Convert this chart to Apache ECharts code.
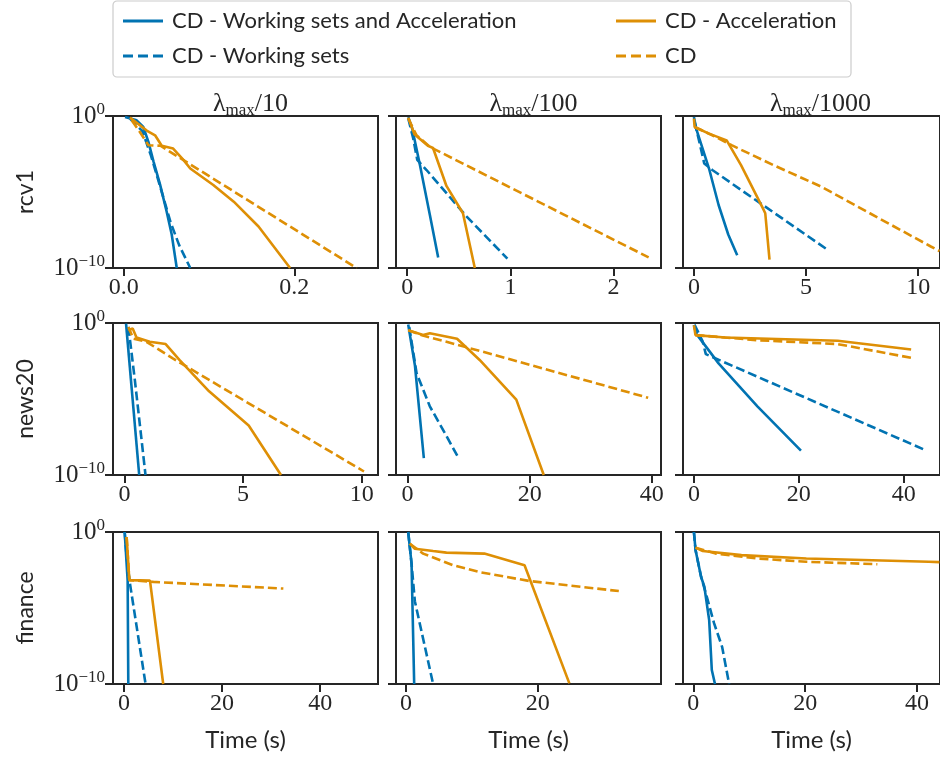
<!DOCTYPE html>
<html><head><meta charset="utf-8">
<script src="https://cdn.jsdelivr.net/npm/echarts@6/dist/echarts.min.js"></script>
<style>html,body{margin:0;padding:0;background:#fff}#c{width:940px;height:759px}</style>
</head><body><div id="c"></div>
<script>
// ---- data: [time (s), suboptimality] ----
const rcv1_10_wsacc = [[0.0016,0.85],[0.0152,0.52],[0.023,0.19],[0.029,0.02],[0.035,1e-3],[0.0426,3.2e-5],[0.0504,5e-7],[0.0563,1.6e-8],[0.0622,1e-10]];
const rcv1_10_ws = [[0.0074,0.68],[0.022,0.1],[0.032,2.5e-3],[0.042,3.2e-5],[0.055,1e-7],[0.065,3.2e-9],[0.078,1e-10]];
const rcv1_10_acc = [[0.0074,0.78],[0.027,0.11],[0.0368,0.054],[0.0446,0.011],[0.058,7.2e-3],[0.07,1.3e-3],[0.078,3.5e-4],[0.105,2.9e-5],[0.129,2.3e-6],[0.158,5.4e-8],[0.195,1e-10]];
const rcv1_10_cd = [[0.0094,0.52],[0.019,0.089],[0.029,0.012],[0.043,0.011],[0.15,2e-6],[0.273,1e-10]];

const rcv1_100_wsacc = [[0.01,0.85],[0.048,0.15],[0.123,5.9e-4],[0.219,3.2e-7],[0.30,5e-10]];
const rcv1_100_ws = [[0.01,0.68],[0.058,0.033],[0.097,1.3e-3],[0.187,2.8e-4],[0.574,2.5e-7],[0.971,4.1e-10]];
const rcv1_100_acc = [[0.01,0.78],[0.07,0.063],[0.2,0.011],[0.25,7.9e-3],[0.38,2.5e-5],[0.54,4e-7],[0.655,1e-10]];
const rcv1_100_cd = [[0.01,0.68],[0.09,0.054],[0.219,9.3e-3],[2.34,5e-10]];

const rcv1_1000_wsacc = [[0,0.85],[0.1,0.15],[0.387,7.2e-3],[0.673,3.5e-4],[1.1,1.4e-6],[1.53,1.6e-8],[1.93,6.8e-10]];
const rcv1_1000_ws = [[0.03,0.41],[0.24,0.02],[0.46,7.6e-4],[0.82,2.8e-4],[5.95,1.6e-9]];
const rcv1_1000_acc = [[0,0.68],[0.03,0.19],[0.67,0.069],[1.46,0.025],[2.1,5.9e-4],[3.11,6.6e-7],[3.18,4e-7],[3.37,3.5e-10]];
const rcv1_1000_cd = [[0.03,0.19],[0.82,0.054],[1.68,0.012],[3.54,5.9e-4],[5.69,2.2e-5],[7.84,4e-7],[10.56,2.6e-9],[10.95,1.3e-9]];

const news20_10_wsacc = [[0.07,0.91],[0.625,1e-10]];
const news20_10_ws = [[0.17,0.55],[0.44,1.8e-4],[0.89,1e-10]];
const news20_10_acc = [[0.17,0.33],[0.35,0.43],[0.51,0.11],[1.07,0.058],[1.74,0.041],[2.32,3.7e-3],[3.57,3.2e-5],[5.24,1.8e-7],[6.6,1e-10]];
const news20_10_cd = [[0.17,0.55],[0.375,0.095],[0.93,0.058],[2.04,4.7e-3],[10.1,1.7e-10]];

const news20_100_wsacc = [[0.1,0.79],[1.2,1.6e-3],[2.66,1.3e-9]];
const news20_100_ws = [[0.27,0.55],[1.47,5e-4],[3.64,3.3e-6],[6.36,3.7e-8],[8.15,1.8e-9]];
const news20_100_acc = [[0.1,0.33],[2.55,0.16],[3.64,0.21],[8.1,0.091],[11.8,3.7e-3],[17.8,9.1e-6],[22.3,1e-10]];
const news20_100_cd = [[0.1,0.33],[2.5,0.15],[6.36,0.058],[17.2,3.7e-3],[39.4,1.2e-5]];

const news20_1000_wsacc = [[0,0.71],[0.43,0.2],[4.7,2.2e-3],[12.1,3.3e-6],[20.4,4e-9]];
const news20_1000_ws = [[0.1,0.79],[1.66,0.063],[2.27,8.9e-3],[44,4.5e-9]];
const news20_1000_acc = [[0,0.71],[0.3,0.16],[5.95,0.11],[27.4,0.068],[41.4,0.018]];
const news20_1000_cd = [[0.3,0.16],[12.1,0.074],[27.4,0.041],[42,4.7e-3]];

const finance_10_wsacc = [[0.14,1.0],[0.75,6.3e-4],[0.88,1e-10]];
const finance_10_ws = [[0.14,1.0],[0.54,0.023],[1.22,4e-4],[4.4,1e-10]];
const finance_10_acc = [[0.54,0.47],[0.7,0.4],[1.09,6.8e-4],[5.3,6.3e-4],[8.0,1e-10]];
const finance_10_cd = [[0.54,0.47],[1.09,6.8e-4],[6.0,5.2e-4],[32.5,1.9e-4]];

const finance_100_wsacc = [[0.35,1.0],[0.86,8.3e-3],[1.26,1e-10]];
const finance_100_ws = [[0.35,1.0],[0.86,8.3e-3],[1.36,2.8e-5],[4.13,1e-10]];
const finance_100_acc = [[0.6,0.17],[1.36,0.079],[4.13,0.056],[6.15,0.044],[11.9,0.038],[18.0,6.5e-3],[24.8,1.1e-10]];
const finance_100_cd = [[0.6,0.17],[2.62,0.038],[7.15,6.5e-3],[11.2,2.3e-3],[18.7,6e-4],[32.3,1.3e-4]];

const finance_1000_wsacc = [[0.1,1.0],[0.4,0.063],[1.39,1.1e-3],[1.97,2.5e-4],[2.83,1.6e-6],[3.3,8.3e-10],[3.87,1e-10]];
const finance_1000_ws = [[0.1,1.0],[0.4,0.063],[1.39,1.1e-3],[2.25,8.9e-5],[3.7,1e-6],[5.14,2.8e-8],[6.4,1e-10]];
const finance_1000_acc = [[0.4,0.093],[1.68,0.056],[8.6,0.03],[20.2,0.018],[42.1,0.011],[44,0.0105]];
const finance_1000_cd = [[0.4,0.093],[4.0,0.038],[11.5,0.018],[20.2,0.011],[32.9,7.6e-3]];

// ---- labels / axes ----
const datasetNames = ['rcv1', 'news20', 'finance'];
const lambdaDivisors = ['10', '100', '1000'];
const methodNames = ['CD - Working sets and Acceleration', 'CD - Working sets', 'CD - Acceleration', 'CD'];
const xMins = [[-0.0125, -0.109, -0.487], [-0.48, -1.9, -2.08], [-2.24, -1.5, -1.85]];
const xMaxs = [[0.298, 2.46, 10.97], [10.69, 41.5, 46.9], [51.8, 38.7, 44.1]];
const xTicks = [[[0, 0.2], [0, 1, 2], [0, 5, 10]], [[0, 5, 10], [0, 20, 40], [0, 20, 40]], [[0, 20, 40], [0, 20], [0, 20, 40]]];
const yTicks = [1e-10, 1];

const panelData = [
  [[rcv1_10_wsacc, rcv1_10_ws, rcv1_10_acc, rcv1_10_cd], [rcv1_100_wsacc, rcv1_100_ws, rcv1_100_acc, rcv1_100_cd], [rcv1_1000_wsacc, rcv1_1000_ws, rcv1_1000_acc, rcv1_1000_cd]],
  [[news20_10_wsacc, news20_10_ws, news20_10_acc, news20_10_cd], [news20_100_wsacc, news20_100_ws, news20_100_acc, news20_100_cd], [news20_1000_wsacc, news20_1000_ws, news20_1000_acc, news20_1000_cd]],
  [[finance_10_wsacc, finance_10_ws, finance_10_acc, finance_10_cd], [finance_100_wsacc, finance_100_ws, finance_100_acc, finance_100_cd], [finance_1000_wsacc, finance_1000_ws, finance_1000_acc, finance_1000_cd]]
];

// ---- styling ----
const BLUE = '#0173B2', ORANGE = '#DE8F05', INK = '#262626';
const methodColors = [BLUE, BLUE, ORANGE, ORANGE];
const methodDashed = [false, true, false, true];
const SOLID_ICON = 'path://M0 0h40v3H0z';
const DASH_ICON = 'path://M0 0h10v3H0z M15 0h10v3H15z M30 0h10v3H30z';
const SERIF = 'Liberation Serif, DejaVu Serif, serif';
const SANS = 'Lato, Open Sans, sans-serif';
const colLeft = [113, 396, 683], rowTop = [116, 323, 532];
const GW = 265, GH = 152;

const grids = [], xAxes = [], yAxes = [], series = [], titles = [];
for (let r = 0; r < 3; r++) {
  for (let c = 0; c < 3; c++) {
    const idx = r * 3 + c;
    grids.push({left: colLeft[c], top: rowTop[r], width: GW, height: GH, show: true,
      borderColor: INK, borderWidth: 2, backgroundColor: 'transparent', containLabel: false});
    const dec = (r === 0 && c === 0) ? 1 : 0;
    xAxes.push({
      type: 'value', gridIndex: idx, min: xMins[r][c], max: xMaxs[r][c],
      axisLine: {show: true, onZero: false, lineStyle: {color: INK, width: 2}},
      axisTick: {show: true, length: 8, lineStyle: {color: INK, width: 2}, customValues: xTicks[r][c]},
      axisLabel: {show: true, customValues: xTicks[r][c], formatter: v => Number(v).toFixed(dec),
        fontFamily: SERIF, fontSize: 24, color: INK, margin: 8},
      splitLine: {show: false},
      name: r === 2 ? 'Time (s)' : '', nameLocation: 'middle', nameGap: 44,
      nameTextStyle: {fontFamily: SANS, fontSize: 24, color: INK}
    });
    yAxes.push({
      type: 'log', logBase: 10, gridIndex: idx, min: 1e-10, max: 1,
      axisLine: {show: true, onZero: false, lineStyle: {color: INK, width: 2}},
      axisTick: {show: true, length: 8, lineStyle: {color: INK, width: 2}, customValues: yTicks},
      axisLabel: {show: c === 0, customValues: yTicks, margin: 8,
        formatter: v => (v < 1e-5 ? '{b|10}{s|\u221210}' : '{b|10}{s|0}'),
        rich: {b: {fontFamily: SERIF, fontSize: 25, lineHeight: 30, color: INK},
               s: {fontFamily: SERIF, fontSize: 17, lineHeight: 17, verticalAlign: 'top', color: INK}}},
      splitLine: {show: false},
      name: c === 0 ? datasetNames[r] : '', nameLocation: 'middle', nameGap: 76, nameRotate: 90,
      nameTextStyle: {fontFamily: SANS, fontSize: 23, color: INK}
    });
    const data = panelData[r][c];
    for (let m = 0; m < 4; m++) {
      series.push({
        type: 'line', name: methodNames[m], xAxisIndex: idx, yAxisIndex: idx,
        data: data[m], symbol: 'none', showSymbol: false, clip: true, animation: false,
        lineStyle: {color: methodColors[m], width: 2.6, type: methodDashed[m] ? [9, 4] : 'solid'},
        itemStyle: {color: methodColors[m]}, emphasis: {disabled: true}
      });
    }
  }
}
for (let c = 0; c < 3; c++) {
  titles.push({
    text: '{l|\u03bb}{s|max}{n|/' + lambdaDivisors[c] + '}',
    left: colLeft[c] + GW / 2, top: 84, textAlign: 'center',
    textStyle: {fontWeight: 'normal', rich: {
      l: {fontFamily: SERIF, fontSize: 26, lineHeight: 30, fontWeight: 'normal', color: INK},
      s: {fontFamily: SERIF, fontSize: 17, lineHeight: 17, verticalAlign: 'bottom', fontWeight: 'normal', color: INK},
      n: {fontFamily: SERIF, fontSize: 26, lineHeight: 30, fontWeight: 'normal', color: INK}
    }}
  });
}

const legendCommon = {orient: 'vertical', top: 3, itemWidth: 40, itemHeight: 3, itemGap: 9,
  selectedMode: false, textStyle: {fontFamily: SANS, fontSize: 22, lineHeight: 26, color: INK, padding: [0, 0, 0, 4]}};

const chart = echarts.init(document.getElementById('c'), null, {renderer: 'canvas'});
chart.setOption({
  animation: false,
  backgroundColor: '#ffffff',
  title: titles,
  legend: [
    Object.assign({}, legendCommon, {left: 118, data: [
      {name: methodNames[0], icon: SOLID_ICON}, {name: methodNames[1], icon: DASH_ICON}]}),
    Object.assign({}, legendCommon, {left: 611, data: [
      {name: methodNames[2], icon: SOLID_ICON}, {name: methodNames[3], icon: DASH_ICON}]})
  ],
  graphic: [{type: 'rect', shape: {x: 113, y: 1, width: 738, height: 76, r: 4}, z: -1,
    style: {fill: '#ffffff', stroke: '#cccccc', lineWidth: 1.2}}],
  grid: grids, xAxis: xAxes, yAxis: yAxes, series: series
});
</script>
</body></html>
